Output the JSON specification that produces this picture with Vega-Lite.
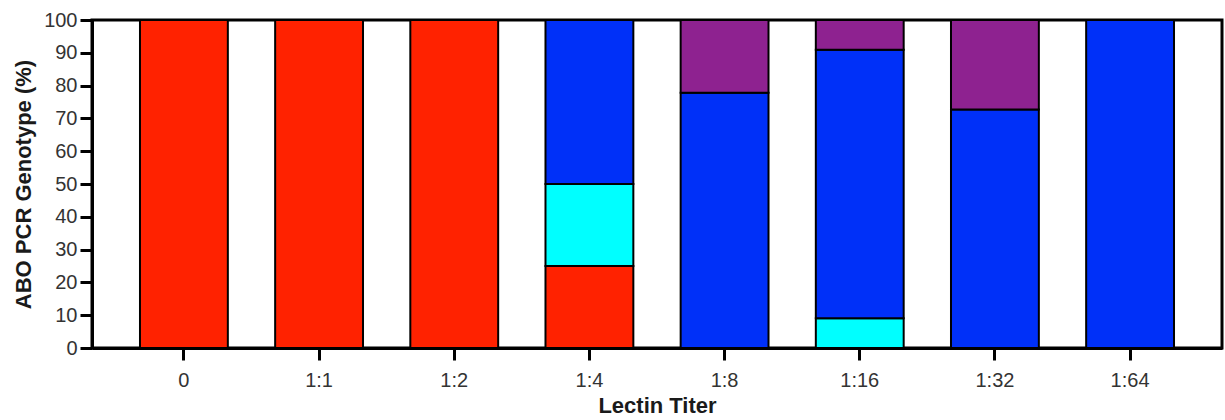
{
  "$schema": "https://vega.github.io/schema/vega-lite/v6.json",
  "autosize": "none",
  "padding": {"left": 92, "top": 20, "right": 3, "bottom": 72},
  "width": 1130,
  "height": 328,
  "background": "white",
  "config": {
    "view": {"stroke": "black", "strokeWidth": 3},
    "font": "Liberation Sans"
  },
  "data": {
    "values": [
      {"titer": "0", "genotype": "O", "ord": 1, "pct": 100},
      {"titer": "1:1", "genotype": "O", "ord": 1, "pct": 100},
      {"titer": "1:2", "genotype": "O", "ord": 1, "pct": 100},
      {"titer": "1:4", "genotype": "O", "ord": 1, "pct": 25},
      {"titer": "1:4", "genotype": "A2", "ord": 2, "pct": 25},
      {"titer": "1:4", "genotype": "A1", "ord": 3, "pct": 50},
      {"titer": "1:8", "genotype": "A1", "ord": 3, "pct": 77.8},
      {"titer": "1:8", "genotype": "AB", "ord": 4, "pct": 22.2},
      {"titer": "1:16", "genotype": "A2", "ord": 2, "pct": 9.1},
      {"titer": "1:16", "genotype": "A1", "ord": 3, "pct": 81.8},
      {"titer": "1:16", "genotype": "AB", "ord": 4, "pct": 9.1},
      {"titer": "1:32", "genotype": "A1", "ord": 3, "pct": 72.7},
      {"titer": "1:32", "genotype": "AB", "ord": 4, "pct": 27.3},
      {"titer": "1:64", "genotype": "A1", "ord": 3, "pct": 100}
    ]
  },
  "mark": {"type": "bar", "stroke": "black", "strokeWidth": 2},
  "encoding": {
    "x": {
      "field": "titer",
      "type": "nominal",
      "sort": ["0", "1:1", "1:2", "1:4", "1:8", "1:16", "1:32", "1:64"],
      "scale": {"paddingInner": 0.35, "paddingOuter": 0.355},
      "axis": {
        "title": "Lectin Titer",
        "titleFont": "Liberation Sans",
        "titleFontSize": 22,
        "titleFontWeight": "bold",
        "titleColor": "#1a1a1a",
        "titlePadding": 5,
        "labelAngle": 0,
        "labelFontSize": 20,
        "labelColor": "#333",
        "labelPadding": 10,
        "tickSize": 12,
        "tickWidth": 3,
        "tickColor": "black",
        "domainColor": "black",
        "domainWidth": 3
      }
    },
    "y": {
      "field": "pct",
      "type": "quantitative",
      "stack": "zero",
      "scale": {"domain": [0, 100], "nice": false},
      "axis": {
        "title": "ABO PCR Genotype (%)",
        "titleFont": "Liberation Sans",
        "titleFontSize": 22,
        "titleFontWeight": "bold",
        "titleColor": "#1a1a1a",
        "titlePadding": 8,
        "values": [0, 10, 20, 30, 40, 50, 60, 70, 80, 90, 100],
        "labelFontSize": 20,
        "labelColor": "#333",
        "labelPadding": 3,
        "tickSize": 12,
        "tickWidth": 3,
        "tickColor": "black",
        "domainColor": "black",
        "domainWidth": 3,
        "grid": false
      }
    },
    "color": {
      "field": "genotype",
      "type": "nominal",
      "scale": {
        "domain": ["O", "A2", "A1", "AB"],
        "range": ["#FF2200", "#00FFFF", "#0030F8", "#8E2290"]
      },
      "legend": null
    },
    "order": {"field": "ord", "type": "quantitative"}
  }
}
